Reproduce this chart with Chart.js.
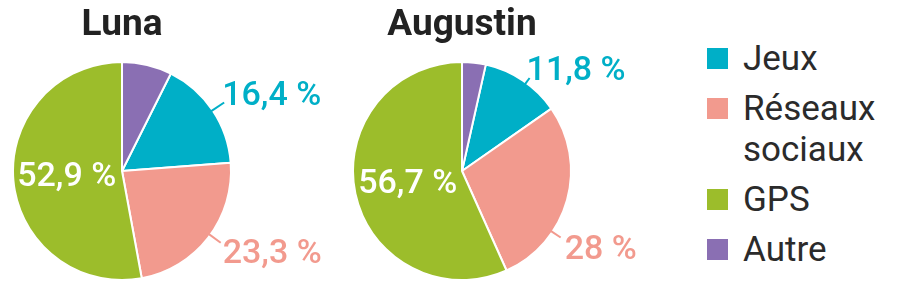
<!DOCTYPE html>
<html>
<head>
<meta charset="utf-8">
<script src="https://cdn.jsdelivr.net/npm/chart.js@4.4.1/dist/chart.umd.min.js"></script>
<style>
  body { margin: 0; background: #fff; }
  #page { position: relative; width: 899px; height: 298px; overflow: hidden; font-family: Roboto, sans-serif; }
  .pie { position: absolute; top: 0; width: 330px; height: 281px; }
  #legend { position: absolute; left: 707px; top: 38px; display: flex; flex-direction: column; gap: 9px; }
  .item { position: relative; padding-left: 36px; font-size: 35px; line-height: 41px; color: #2b2b2b; }
  .item .sq { position: absolute; left: 0; top: 10px; width: 21px; height: 21px; }
</style>
</head>
<body>
<div id="page">
  <div class="pie" style="left:0px"><canvas id="chartLuna"></canvas></div>
  <div class="pie" style="left:330px"><canvas id="chartAugustin"></canvas></div>
  <div id="legend"></div>
</div>
<script>
// donnees (ordre de la legende)
const categories = ['Jeux', 'Réseaux sociaux', 'GPS', 'Autre'];
const lunaValues = [16.4, 23.3, 52.9, 7.4];
const augustinValues = [11.8, 28, 56.7, 3.5];
const colors = ['#00afc7', '#f29a8e', '#9cbd2b', '#8a6fb3'];

const FONT = 'Roboto, sans-serif';

function fmt(v) {
    return String(v).replace('.', ',') + ' %';
}

// etiquettes : dans la part (GPS) ou a l'exterieur avec un petit trait
const labelPlugin = {
    id: 'pieLabels',
    afterDatasetsDraw(chart, args, opts) {
        const ctx = chart.ctx;
        const meta = chart.getDatasetMeta(0);
        const values = chart.data.datasets[0].data;
        ctx.save();
        ctx.font = '500 34px ' + FONT;
        (opts.inside || []).forEach(i => {
            const arc = meta.data[i];
            const a = (arc.startAngle + arc.endAngle) / 2;
            const r = arc.outerRadius * 0.5;
            ctx.fillStyle = '#fff';
            ctx.textAlign = 'center';
            ctx.textBaseline = 'middle';
            ctx.fillText(fmt(values[i]), arc.x + r * Math.cos(a) - 1, arc.y + r * Math.sin(a) + 2);
        });
        (opts.outside || []).forEach(c => {
            const arc = meta.data[c.index];
            const a = c.angle !== undefined ? (c.angle - 90) * Math.PI / 180 : (arc.startAngle + arc.endAngle) / 2;
            const r0 = arc.outerRadius - 2;
            const r1 = arc.outerRadius + c.len;
            const x1 = arc.x + r1 * Math.cos(a);
            const y1 = arc.y + r1 * Math.sin(a);
            ctx.strokeStyle = colors[c.index];
            ctx.lineWidth = 2;
            ctx.beginPath();
            ctx.moveTo(arc.x + r0 * Math.cos(a), arc.y + r0 * Math.sin(a));
            ctx.lineTo(x1, y1);
            ctx.stroke();
            ctx.fillStyle = colors[c.index];
            ctx.textAlign = 'left';
            ctx.textBaseline = 'alphabetic';
            ctx.fillText(fmt(values[c.index]), x1 + c.dx, y1 + c.dy);
        });
        ctx.restore();
    }
};

function createPie(id, name, values, pad, labelOpts) {
    const ctx = document.getElementById(id);
    return new Chart(ctx, {
        type: 'pie',
        data: {
            labels: categories,
            datasets: [{
                data: values,
                backgroundColor: colors,
                borderColor: '#fff',
                borderWidth: 2
            }]
        },
        options: {
            responsive: true,
            maintainAspectRatio: false,
            animation: false,
            // la part "Autre" finit a midi
            rotation: values[values.length - 1] * 3.6,
            layout: { padding: { left: pad, right: 110 - pad, top: 0, bottom: 0 } },
            plugins: {
                legend: { display: false },
                tooltip: { enabled: false },
                title: {
                    display: true,
                    text: name,
                    color: '#222',
                    font: { family: FONT, size: 37, weight: 'bold', lineHeight: 1 },
                    padding: { top: 7, bottom: 17 }
                },
                pieLabels: labelOpts
            }
        },
        plugins: [labelPlugin]
    });
}

createPie('chartLuna', 'Luna', lunaValues, 12, {
    inside: [2],
    outside: [
        { index: 0, len: 14, dx: -2, dy: 2 },
        { index: 1, angle: 126, len: 13, dx: 2, dy: 20 }
    ]
});
createPie('chartAugustin', 'Augustin', augustinValues, 22, {
    inside: [2],
    outside: [
        { index: 0, angle: 36, len: 6, dx: -3, dy: 2 },
        { index: 1, angle: 124, len: 10, dx: 4, dy: 21 }
    ]
});

// legende HTML
const legend = document.getElementById('legend');
categories.forEach((cat, i) => {
    const item = document.createElement('div');
    item.className = 'item';
    const sq = document.createElement('span');
    sq.className = 'sq';
    sq.style.background = colors[i];
    item.appendChild(sq);
    cat.split(' ').forEach((word, k) => {
        if (k > 0) item.appendChild(document.createElement('br'));
        item.appendChild(document.createTextNode(word));
    });
    legend.appendChild(item);
});
</script>
</body>
</html>
